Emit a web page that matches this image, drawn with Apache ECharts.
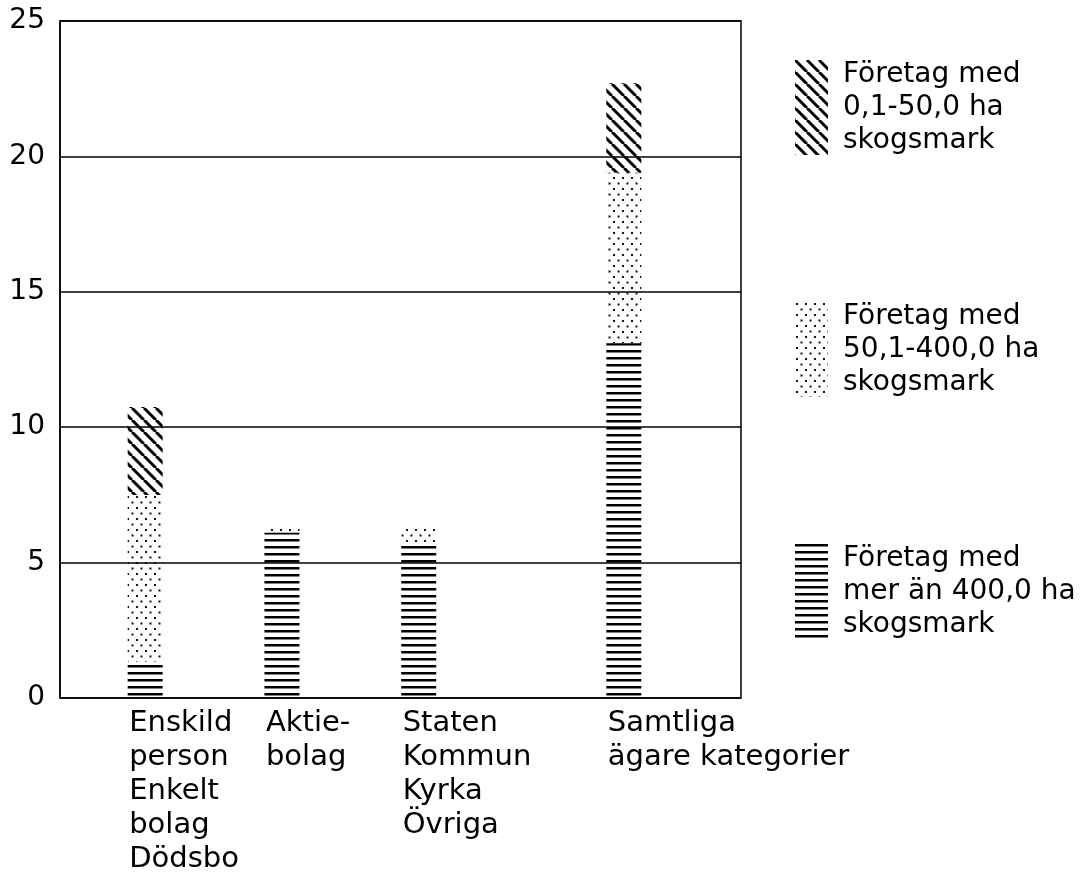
<!DOCTYPE html>
<html>
<head>
<meta charset="utf-8">
<script src="https://cdn.jsdelivr.net/npm/echarts@6/dist/echarts.min.js"></script>
<style>
  html, body { margin: 0; padding: 0; background: #fff; }
  #chart { width: 1081px; height: 885px; }
</style>
</head>
<body>
<div id="chart"></div>
<script>
// owner categories (empty slots keep the uneven spacing of the original)
var categories = [
  'Enskild\nperson\nEnkelt\nbolag\nDödsbo', '',
  'Aktie-\nbolag', '',
  'Staten\nKommun\nKyrka\nÖvriga', '', '',
  'Samtliga\nägare kategorier'
]
var seriesNames = [
  'Företag med\nmer än 400,0 ha\nskogsmark',
  'Företag med\n50,1-400,0 ha\nskogsmark',
  'Företag med\n0,1-50,0 ha\nskogsmark'
]
// stacked segment values, bottom to top
var largeHoldings = [1.35, '-', 6.1, '-', 5.75, '-', '-', 13.1]
var mediumHoldings = [6.15, '-', 0.2, '-', 0.5, '-', '-', 6.3]
var smallHoldings = [3.25, '-', 0, '-', 0, '-', '-', 3.3]
var yTicks = [0, 5, 10, 15, 20, 25]

var FONT = "'DejaVu Sans', sans-serif"

function makeTile(w, h, draw) {
  var c = document.createElement('canvas')
  c.width = w
  c.height = h
  var ctx = c.getContext('2d')
  draw(ctx, w, h)
  return { image: c, repeat: 'repeat' }
}

var hatchLines = makeTile(6, 7, function (ctx, w) {
  ctx.fillStyle = '#000'
  ctx.fillRect(0, 0, w, 2.5)
})
var dots = makeTile(9, 11, function (ctx) {
  ctx.fillStyle = '#111'
  ctx.fillRect(1, 1, 2, 2)
  ctx.fillRect(5.5, 6.5, 2, 2)
})
var diagonal = makeTile(12, 12, function (ctx, s) {
  ctx.strokeStyle = '#000'
  ctx.lineWidth = 3
  ctx.beginPath()
  ;[-s, 0, s].forEach(function (o) {
    ctx.moveTo(o, 0)
    ctx.lineTo(o + s, s)
  })
  ctx.stroke()
})

var chart = echarts.init(document.getElementById('chart'))

function barSeries(name, data, fill) {
  return {
    name: name,
    type: 'bar',
    stack: 'total',
    xAxisIndex: 1,
    yAxisIndex: 1,
    barWidth: 35,
    data: data,
    itemStyle: { color: fill },
    emphasis: { disabled: true },
    animation: false
  }
}

chart.setOption({
  backgroundColor: '#fff',
  animation: false,
  grid: [
    { left: 60, right: 340, top: 21, bottom: 187, show: true, borderColor: '#000', borderWidth: 1.5 },
    { left: 111, right: 423, top: 21, bottom: 187 }
  ],
  xAxis: [
    { gridIndex: 0, type: 'category', data: [''], show: false },
    {
      gridIndex: 1,
      type: 'category',
      data: categories,
      axisLine: { show: false },
      axisTick: { show: false },
      axisLabel: {
        interval: 0,
        align: 'left',
        verticalAlign: 'top',
        margin: 8,
        padding: [0, 0, 0, -16],
        fontFamily: FONT,
        fontSize: 29,
        lineHeight: 34,
        color: '#000'
      }
    }
  ],
  yAxis: [
    {
      gridIndex: 0,
      type: 'value',
      min: yTicks[0],
      max: yTicks[yTicks.length - 1],
      interval: 5,
      axisLine: { show: true, lineStyle: { color: '#000', width: 1.5 } },
      axisTick: { show: false },
      splitLine: { show: true, lineStyle: { color: '#000', width: 1.5 } },
      axisLabel: { margin: 15, fontFamily: FONT, fontSize: 28, color: '#000' }
    },
    { gridIndex: 1, type: 'value', min: 0, max: 25, show: false, splitLine: { show: false } }
  ],
  legend: {
    orient: 'vertical',
    left: 790,
    top: 53,
    itemWidth: 33,
    itemHeight: 95,
    itemGap: 143,
    icon: 'rect',
    data: [seriesNames[2], seriesNames[1], seriesNames[0]],
    selectedMode: false,
    textStyle: {
      fontFamily: FONT,
      fontSize: 28,
      lineHeight: 33,
      color: '#000',
      padding: [0, 0, 0, 10]
    }
  },
  series: [
    barSeries(seriesNames[0], largeHoldings, hatchLines),
    barSeries(seriesNames[1], mediumHoldings, dots),
    barSeries(seriesNames[2], smallHoldings, diagonal)
  ]
})
</script>
</body>
</html>
